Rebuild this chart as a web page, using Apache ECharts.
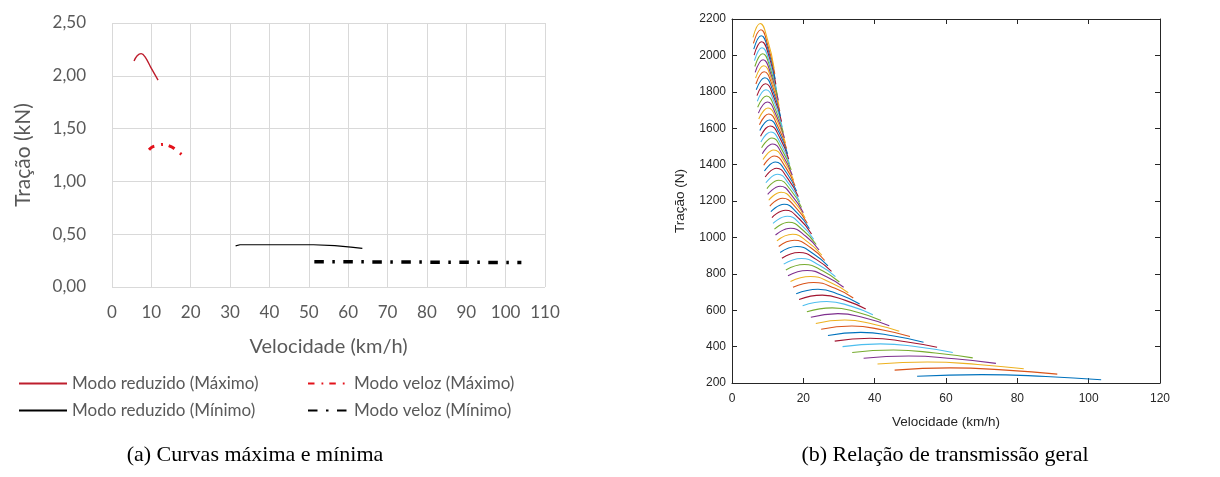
<!DOCTYPE html>
<html><head><meta charset="utf-8">
<script src="https://cdn.jsdelivr.net/npm/echarts@6/dist/echarts.min.js"></script>
<style>html,body{margin:0;padding:0;background:#fff}#c{width:1220px;height:477px}</style>
</head><body><div id="c"></div>
<script>
// ---------- Left chart (a) ----------
const reducedMax = [[5.6,2.14],[6.4,2.19],[7.4,2.21],[8.4,2.18],[10.0,2.07],[11.7,1.96]];
const fastMax    = [[9.4,1.30],[10.2,1.325],[11.0,1.335],[13.0,1.35],[15.0,1.33],[16.5,1.29],[18.0,1.245]];
const reducedMin = [[31.4,0.39],[32.5,0.40],[51.2,0.40],[51.6,0.392],[56.6,0.392],[57.0,0.378],[60.7,0.378],[61.1,0.365],[63.6,0.365]];
const fastMin    = [[51.4,0.24],[70,0.237],[90,0.234],[104,0.231]];
const leftNames  = ['Modo reduzido (Máximo)','Modo veloz (Máximo)','Modo reduzido (Mínimo)','Modo veloz (Mínimo)'];

// ---------- Right chart (b) : one curve per gear ratio ----------
const curveStartV = [51.9,45.6,40.8,36.9,33.7,31.0,28.8,26.9,25.0,23.5,22.1,21.0,19.8,18.8,18.0,17.1,16.4,15.7,15.1,14.5,14.0,13.5,13.1,12.6,12.2,11.9,11.5,11.2,10.9,10.6,10.3,10.0,9.8,9.5,9.3,9.1,8.9,8.7,8.5,8.3,8.1,8.0,7.8,7.7,7.5,7.4,7.2,7.1,7.0,6.8,6.7,6.6,6.5,6.4,6.3,6.2,6.1,6.0,5.9];
const curveStartF = [237,271,304,336,368,400,430,461,495,527,561,592,625,659,690,726,758,789,821,853,885,917,950,981,1013,1045,1077,1109,1141,1172,1204,1236,1268,1300,1332,1365,1396,1428,1460,1492,1524,1556,1587,1619,1651,1683,1715,1748,1779,1811,1843,1875,1907,1939,1971,2002,2034,2066,2099];
const curvePeakV  = [70,61.2,54.8,49.6,45.3,41.6,38.7,36.1,33.6,31.6,29.7,28.1,26.6,25.3,24.1,22.9,22.0,21.1,20.3,19.5,18.8,18.2,17.5,17.0,16.4,15.9,15.5,15.0,14.6,14.2,13.8,13.5,13.1,12.8,12.5,12.2,11.9,11.7,11.4,11.2,10.9,10.7,10.5,10.3,10.1,9.9,9.7,9.5,9.4,9.2,9.0,8.9,8.7,8.6,8.4,8.3,8.2,8.1,7.9];
const curvePeakF  = [246,283,315,348,381,415,446,478,513,546,581,613,648,683,715,752,785,818,851,884,917,950,984,1017,1050,1083,1116,1149,1182,1215,1248,1281,1314,1347,1380,1414,1447,1480,1513,1546,1579,1612,1645,1678,1711,1744,1777,1811,1844,1877,1910,1943,1976,2009,2042,2075,2108,2141,2175];
const curveMidV   = [88,76.8,68.9,62.4,57.0,52.3,48.7,45.4,42.3,39.7,37.3,35.4,33.5,31.8,30.3,28.9,27.6,26.5,25.5,24.5,23.7,22.8,22.1,21.3,20.7,20.0,19.4,18.9,18.4,17.9,17.4,16.9,16.5,16.1,15.7,15.3,15.0,14.7,14.3,14.0,13.7,13.5,13.2,12.9,12.7,12.4,12.2,12.0,11.8,11.6,11.4,11.2,11.0,10.8,10.6,10.5,10.3,10.1,10.0];
const curveMidF   = [236,271,302,333,365,398,427,458,491,523,557,587,621,654,685,720,752,784,815,847,878,910,943,974,1006,1038,1069,1101,1132,1164,1196,1227,1259,1290,1322,1355,1386,1418,1449,1481,1513,1544,1576,1608,1639,1671,1702,1735,1767,1798,1830,1861,1893,1925,1956,1988,2019,2051,2084];
const curveEndV   = [103.5,91.2,81.8,74.0,67.5,61.9,57.5,53.7,49.9,46.9,44.1,41.8,39.5,37.5,35.8,34.0,32.6,31.3,30.1,29.0,27.9,26.9,26.0,25.2,24.4,23.6,22.9,22.3,21.7,21.1,20.5,20.0,19.5,19.0,18.6,18.1,17.7,17.3,16.9,16.6,16.2,15.9,15.6,15.3,15.0,14.7,14.4,14.1,13.9,13.6,13.4,13.2,13.0,12.7,12.5,12.3,12.1,12.0,11.8];
const curveEndF   = [218,249,278,308,338,368,396,424,455,484,515,544,575,606,634,667,696,726,755,784,813,843,873,902,931,961,990,1019,1048,1078,1107,1136,1165,1195,1224,1254,1283,1313,1342,1371,1401,1430,1459,1488,1518,1547,1576,1606,1636,1665,1694,1723,1753,1782,1811,1841,1870,1899,1929];
const matlabColors = ['#0072BD','#D95319','#EDB120','#7E2F8E','#77AC30','#4DBEEE','#A2142F'];

const GRAY = '#595959', DARK = '#262626';
const sansL = 'Lato', sansR = 'Liberation Sans';

const series = [
  {name: leftNames[0], type:'line', xAxisIndex:0, yAxisIndex:0, data: reducedMax, smooth:0.4, symbol:'none',
   lineStyle:{color:'#BE1E2D', width:1.4}, itemStyle:{color:'#BE1E2D'}},
  {name: leftNames[1], type:'line', xAxisIndex:0, yAxisIndex:0, data: fastMax, smooth:0.4, symbol:'none',
   lineStyle:{color:'#E3121B', width:3, type:[6.5,7,1.8,6], cap:'butt'}, itemStyle:{color:'#E3121B'}},
  {name: leftNames[2], type:'line', xAxisIndex:0, yAxisIndex:0, data: reducedMin, symbol:'none',
   lineStyle:{color:'#000', width:1.2}, itemStyle:{color:'#000'}},
  {name: leftNames[3], type:'line', xAxisIndex:0, yAxisIndex:0, data: fastMin, symbol:'none',
   lineStyle:{color:'#000', width:3.5, type:[9.5,8.5,2.5,8.5], cap:'butt'}, itemStyle:{color:'#000'}}
];
for (let i = 0; i < curvePeakF.length; i++) {
  const c = matlabColors[i % 7];
  series.push({
    type:'line', xAxisIndex:1, yAxisIndex:1, smooth:0.5, symbol:'none', silent:true,
    data:[[curveStartV[i],curveStartF[i]],[curvePeakV[i],curvePeakF[i]],[curveMidV[i],curveMidF[i]],[curveEndV[i],curveEndF[i]]],
    lineStyle:{color:c, width:1.1}, itemStyle:{color:c}
  });
}

function legendAt(name, left, top, w) {
  return {data:[name], left:left, top:top, padding:0, itemWidth:w, itemHeight:14,
    itemStyle:{opacity:0},
    textStyle:{color:GRAY, fontSize:17, fontFamily:sansL}, selectedMode:false};
}

const chart = echarts.init(document.getElementById('c'));
chart.setOption({
  animation:false,
  backgroundColor:'#fff',
  grid:[
    {left:112, top:23, width:433, height:264},
    {left:732, top:19, width:428, height:364}
  ],
  legend:[
    legendAt(leftNames[0], 18, 375, 48),
    legendAt(leftNames[1], 307, 375, 41),
    legendAt(leftNames[2], 18, 402, 48),
    legendAt(leftNames[3], 307, 402, 41)
  ],
  xAxis:[
    {type:'value', gridIndex:0, min:0, max:110, interval:10,
     axisLine:{show:false}, axisTick:{show:false},
     splitLine:{show:true, lineStyle:{color:'#d9d9d9', width:1}},
     axisLabel:{color:GRAY, fontSize:17, fontFamily:sansL, margin:17},
     name:'Velocidade (km/h)', nameLocation:'middle', nameGap:50,
     nameTextStyle:{color:GRAY, fontSize:20, fontFamily:sansL}},
    {type:'value', gridIndex:1, min:0, max:120, interval:20, position:'bottom',
     axisLine:{show:true, onZero:false, lineStyle:{color:DARK, width:1}},
     axisTick:{show:true, inside:true, length:5, lineStyle:{color:DARK}},
     splitLine:{show:false},
     axisLabel:{color:DARK, fontSize:12, fontFamily:sansR, margin:10, formatter:v => String(v)},
     name:'Velocidade (km/h)', nameLocation:'middle', nameGap:32,
     nameTextStyle:{color:DARK, fontSize:13.5, fontFamily:sansR}},
    {type:'value', gridIndex:1, min:0, max:120, interval:20, position:'top',
     axisLine:{show:true, onZero:false, lineStyle:{color:DARK, width:1}},
     axisTick:{show:true, inside:true, length:5, lineStyle:{color:DARK}},
     splitLine:{show:false}, axisLabel:{show:false}}
  ],
  yAxis:[
    {type:'value', gridIndex:0, min:0, max:2.5, interval:0.5,
     axisLine:{show:false}, axisTick:{show:false},
     splitLine:{show:true, lineStyle:{color:'#d9d9d9', width:1}},
     axisLabel:{color:GRAY, fontSize:17, fontFamily:sansL, margin:26,
       formatter:v => v.toFixed(2).replace('.', ',')},
     name:'Tração (kN)', nameLocation:'middle', nameGap:78,
     nameTextStyle:{color:GRAY, fontSize:21, fontFamily:sansL}},
    {type:'value', gridIndex:1, min:200, max:2200, interval:200, position:'left',
     axisLine:{show:true, onZero:false, lineStyle:{color:DARK, width:1}},
     axisTick:{show:true, inside:true, length:5, lineStyle:{color:DARK}},
     splitLine:{show:false},
     axisLabel:{color:DARK, fontSize:12, fontFamily:sansR, margin:6, formatter:v => String(v)},
     name:'Tração (N)', nameLocation:'middle', nameGap:45,
     nameTextStyle:{color:DARK, fontSize:13.5, fontFamily:sansR}},
    {type:'value', gridIndex:1, min:200, max:2200, interval:200, position:'right',
     axisLine:{show:true, onZero:false, lineStyle:{color:DARK, width:1}},
     axisTick:{show:true, inside:true, length:5, lineStyle:{color:DARK}},
     splitLine:{show:false}, axisLabel:{show:false}}
  ],
  graphic:[
    {type:'text', style:{text:'(a) Curvas máxima e mínima', x:255, y:455,
      align:'center', verticalAlign:'middle', fill:'#000', font:'22px "Liberation Serif"'}},
    {type:'text', style:{text:'(b) Relação de transmissão geral', x:945, y:455,
      align:'center', verticalAlign:'middle', fill:'#000', font:'22px "Liberation Serif"'}}
  ],
  series:series
});
</script></body></html>
